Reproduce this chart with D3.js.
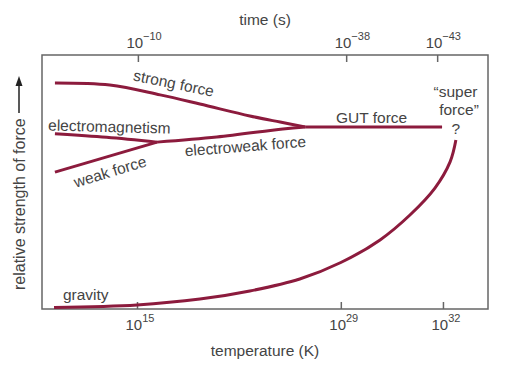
<!DOCTYPE html>
<html>
<head>
<meta charset="utf-8">
<script src="https://cdn.jsdelivr.net/npm/d3@7"></script>
<style>
body { margin: 0; background: #fff; }
text { font-family: "Liberation Sans", Arial, sans-serif; fill: #444; }
</style>
</head>
<body>
<div id="chart"></div>
<script>
// x = schematic progression back in time (0 = now, 100 = Planck era)
// y = relative strength of force (0 = weakest, 100 = strongest)
var tempTicks = [21.3, 67.0, 89.9];
var tempExps = ["15", "29", "32"];
var timeTicks = [21.5, 68.2, 88.6];
var timeExps = ["\u221210", "\u221238", "\u221243"];

var strongX = [2.9, 15.2, 26.5, 35.4, 46.6, 53.4, 59.0];
var strongY = [89.0, 88.2, 84.3, 80.7, 76.0, 73.6, 71.7];

var emX = [2.9, 14.5, 25.8];
var emY = [69.0, 67.6, 65.7];

var weakX = [2.9, 25.8];
var weakY = [53.9, 65.7];

var ewX = [25.8, 39.2, 54.0, 59.0];
var ewY = [65.7, 67.7, 70.9, 71.7];

var gutX = [59.0, 89.7];
var gutY = [71.7, 71.7];

var gravX = [2.7, 21.3, 35.4, 46.6, 57.8, 67.0, 75.8, 82.5, 88.1, 91.5, 92.8];
var gravY = [0.6, 1.6, 3.9, 7.1, 11.8, 18.3, 27.2, 37.0, 47.6, 57.9, 66.5];

var labelText = ["strong force", "electromagnetism", "weak force", "electroweak force",
                 "GUT force", "\u201csuper", "force\u201d", "?", "gravity"];
var labelX = [29.3, 1.35, 15.6, 45.7, 73.9, 92.7, 93.5, 92.8, 4.7];
var labelY = [86.8, 70.3, 52.0, 62.0, 73.2, 83.5, 76.4, 68.9, 3.5];
var labelRot = [11.5, 1.5, -17, -4.5, 0, 0, 0, 0, 0];
var labelAnchor = ["middle", "start", "middle", "middle", "middle", "middle", "middle", "middle", "start"];

var width = 516, height = 372;
var margin = {top: 55, right: 28, bottom: 63, left: 42};
var lineColor = "#8c1b3d";

var svg = d3.select("#chart").append("svg")
    .attr("width", width)
    .attr("height", height);

var x = d3.scaleLinear().domain([0, 100]).range([margin.left, width - margin.right]);
var y = d3.scaleLinear().domain([0, 100]).range([height - margin.bottom, margin.top]);

// frame
svg.append("rect")
    .attr("x", x(0)).attr("y", y(100))
    .attr("width", x(100) - x(0)).attr("height", y(0) - y(100))
    .attr("fill", "none").attr("stroke", "#666").attr("stroke-width", 1.5);

// inward ticks
svg.append("g")
    .attr("transform", "translate(0," + y(0) + ")")
    .call(d3.axisBottom(x).tickValues(tempTicks).tickSize(-7).tickSizeOuter(0).tickFormat(""));
svg.append("g")
    .attr("transform", "translate(0," + y(100) + ")")
    .call(d3.axisTop(x).tickValues(timeTicks).tickSize(-7).tickSizeOuter(0).tickFormat(""));
svg.selectAll(".domain").remove();
svg.selectAll(".tick line").attr("stroke", "#666").attr("stroke-width", 1.5);

function powLabel(sel, ticks, exps, yBase) {
    ticks.forEach(function(t, i) {
        var txt = sel.append("text")
            .attr("x", x(t) - 11.5)
            .attr("y", yBase)
            .attr("font-size", 15);
        txt.append("tspan").text("10");
        txt.append("tspan").attr("dy", -8).attr("font-size", 11).text(exps[i]);
    });
}
powLabel(svg, tempTicks, tempExps, y(0) + 21);
powLabel(svg, timeTicks, timeExps, y(100) - 7);

svg.append("text")
    .attr("x", (x(0) + x(100)) / 2).attr("y", 356)
    .attr("text-anchor", "middle").attr("font-size", 15.5)
    .text("temperature (K)");
svg.append("text")
    .attr("x", (x(0) + x(100)) / 2).attr("y", 25)
    .attr("text-anchor", "middle").attr("font-size", 15.5)
    .text("time (s)");

// y label with arrow
svg.append("text")
    .attr("transform", "translate(25," + 290 + ") rotate(-90)")
    .attr("text-anchor", "start").attr("font-size", 16)
    .text("relative strength of force");
svg.append("line")
    .attr("x1", 19).attr("y1", 113).attr("x2", 19).attr("y2", 84)
    .attr("stroke", "#222").attr("stroke-width", 1.5);
svg.append("path")
    .attr("d", "M19,76 L15.5,86 L22.5,86 Z")
    .attr("fill", "#222");

// curves
var line = d3.line()
    .x(function(d) { return x(d[0]); })
    .y(function(d) { return y(d[1]); })
    .curve(d3.curveCatmullRom.alpha(0.5));

var curves = [
    [strongX, strongY],
    [emX, emY],
    [weakX, weakY],
    [ewX, ewY],
    [gutX, gutY],
    [gravX, gravY]
];
curves.forEach(function(c) {
    var pts = c[0].map(function(v, i) { return [v, c[1][i]]; });
    svg.append("path")
        .datum(pts)
        .attr("d", line)
        .attr("fill", "none")
        .attr("stroke", lineColor)
        .attr("stroke-width", 3)
        .attr("stroke-linecap", "butt");
});

// labels
labelText.forEach(function(t, i) {
    svg.append("text")
        .attr("transform", "translate(" + x(labelX[i]) + "," + y(labelY[i]) + ") rotate(" + labelRot[i] + ")")
        .attr("text-anchor", labelAnchor[i])
        .attr("font-size", 15.5)
        .text(t);
});
</script>
</body>
</html>
